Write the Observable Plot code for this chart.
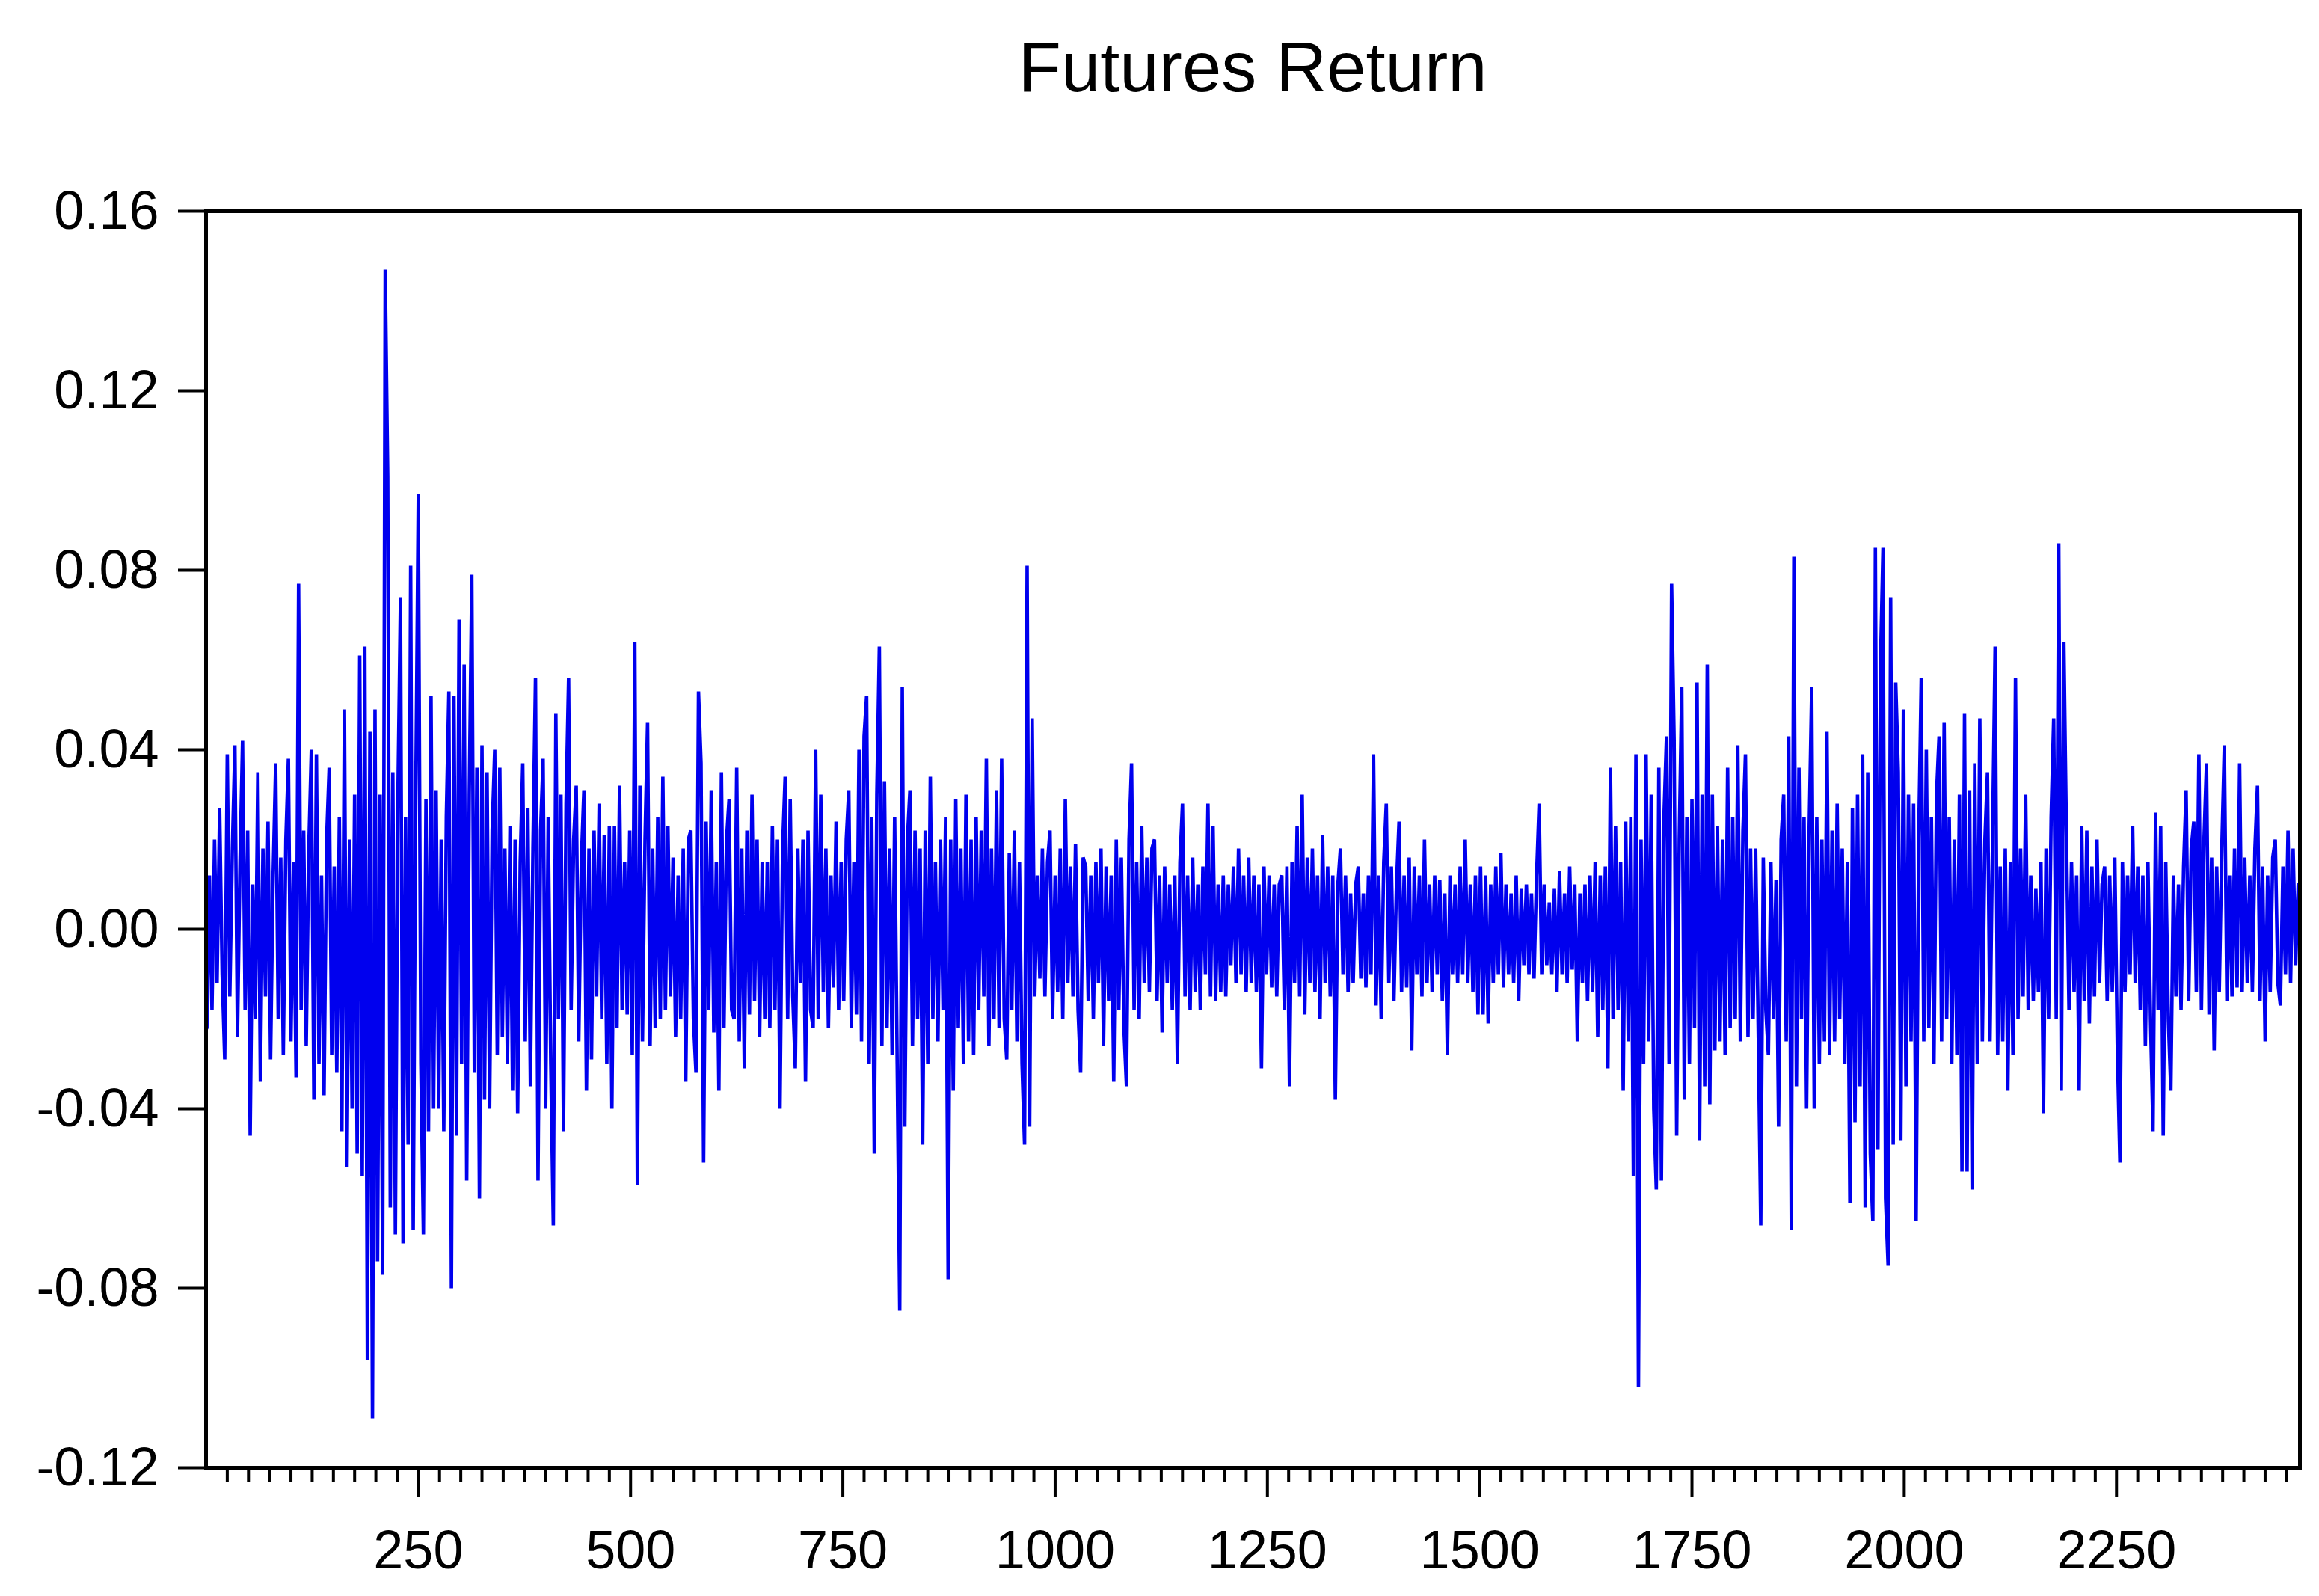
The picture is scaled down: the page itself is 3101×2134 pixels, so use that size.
<!DOCTYPE html>
<html><head><meta charset="utf-8">
<script src="https://cdn.jsdelivr.net/npm/d3@7"></script>
<script src="https://cdn.jsdelivr.net/npm/@observablehq/plot@0.6"></script>
<style>
html,body{margin:0;padding:0;background:#fff;}
#title{height:200px;box-sizing:border-box;width:3075px;padding:43px 0 0 275px;text-align:center;font:94px/94px "Liberation Sans",Arial,sans-serif;color:#000;white-space:nowrap;}
#chart svg{display:block;}
</style></head><body>
<div id="title"></div>
<div id="chart"></div>
<script>
const titleText = "Futures Return";
const firstObs = 1, obsStep = 3;
// returns, obs 1-598
const retA = [
-0.022,0.012,-0.018,0.020,-0.012,0.027,-0.010,-0.029,0.039,-0.015,
0.018,0.041,-0.024,0.015,0.042,-0.018,0.022,-0.046,0.010,-0.020,
0.035,-0.034,0.018,-0.015,0.024,-0.029,0.012,0.037,-0.020,0.016,
-0.028,0.020,0.038,-0.025,0.015,-0.033,0.077,-0.018,0.022,-0.026,
0.018,0.040,-0.038,0.039,-0.030,0.012,-0.037,0.020,0.036,-0.028,
0.014,-0.032,0.025,-0.045,0.049,-0.053,0.020,-0.040,0.030,-0.050,
0.061,-0.055,0.063,-0.096,0.044,-0.109,0.049,-0.074,0.030,-0.077,
0.147,0.101,-0.062,0.035,-0.068,0.030,0.074,-0.070,0.025,-0.048,
0.081,-0.067,0.030,0.097,-0.030,-0.068,0.029,-0.045,0.052,-0.040,
0.031,-0.040,0.020,-0.045,0.025,0.053,-0.080,0.052,-0.046,0.069,
-0.030,0.059,-0.056,0.030,0.079,-0.032,0.036,-0.060,0.041,-0.038,
0.035,-0.040,0.022,0.040,-0.028,0.036,-0.024,0.018,-0.030,0.023,
-0.036,0.020,-0.041,0.015,0.037,-0.025,0.027,-0.035,0.018,0.056,
-0.056,0.022,0.038,-0.040,0.025,-0.030,-0.066,0.048,-0.020,0.030,
-0.045,0.028,0.056,-0.018,0.020,0.032,-0.025,0.015,0.031,-0.036,
0.018,-0.029,0.022,-0.015,0.028,-0.020,0.021,-0.030,0.023,-0.040,
0.023,-0.022,0.032,-0.018,0.015,-0.019,0.022,-0.028,0.064,-0.057,
0.032,-0.025,0.020,0.046,-0.026,0.018,-0.022,0.025,-0.020,0.034,
-0.018,0.023,-0.015,0.016,-0.024,0.012,-0.020,0.018,-0.034,0.020,
0.022,-0.020,-0.032,0.053,0.037,-0.052,0.024,-0.018,0.031,-0.023
];
// returns, obs 601-1198
const retB = [
0.015,-0.036,0.035,-0.022,0.020,0.029,-0.018,-0.020,0.036,-0.025,
0.018,-0.031,0.022,-0.019,0.030,-0.016,0.020,-0.024,0.015,-0.020,
0.015,-0.022,0.023,-0.018,0.020,-0.040,0.018,0.034,-0.020,0.029,
-0.015,-0.031,0.018,-0.012,0.020,-0.034,0.022,-0.018,-0.022,0.040,
-0.020,0.030,-0.014,0.018,-0.022,0.012,-0.013,0.024,-0.018,0.015,
-0.016,0.020,0.031,-0.022,0.015,-0.019,0.040,-0.025,0.043,0.052,
-0.030,0.025,-0.050,0.030,0.063,-0.026,0.033,-0.022,0.018,-0.028,
0.025,-0.030,-0.085,0.054,-0.044,0.020,0.031,-0.026,0.022,-0.020,
0.018,-0.048,0.022,-0.030,0.034,-0.020,0.015,-0.025,0.020,-0.018,
0.025,-0.078,0.020,-0.036,0.029,-0.022,0.018,-0.030,0.030,-0.025,
0.020,-0.028,0.025,-0.018,0.022,-0.015,0.038,-0.026,0.018,-0.020,
0.031,-0.022,0.038,-0.020,-0.029,0.017,-0.018,0.022,-0.025,0.015,
-0.030,-0.048,0.081,-0.044,0.047,-0.015,0.012,-0.011,0.018,-0.015,
0.015,0.022,-0.020,0.012,-0.014,0.018,-0.020,0.029,-0.012,0.014,
-0.015,0.019,-0.018,-0.032,0.016,0.014,-0.016,0.012,-0.020,0.015,
-0.012,0.018,-0.026,0.014,-0.016,0.012,-0.034,0.020,-0.018,0.016,
-0.022,-0.035,0.020,0.037,-0.018,0.015,-0.020,0.023,-0.012,0.016,
-0.014,0.018,0.020,-0.016,0.012,-0.023,0.014,-0.012,0.010,-0.018,
0.012,-0.030,0.015,0.028,-0.015,0.012,-0.018,0.016,-0.014,0.010,
-0.018,0.014,-0.010,0.028,-0.015,0.023,-0.016,0.010,-0.014,0.012
];
// returns, obs 1201-1798
const retC = [
-0.015,0.010,-0.008,0.014,-0.012,0.018,-0.010,0.012,-0.014,0.016,
-0.012,0.012,-0.014,0.010,-0.031,0.014,-0.010,0.012,-0.013,0.010,
-0.015,0.010,0.012,-0.018,0.014,-0.035,0.015,-0.012,0.023,-0.015,
0.030,-0.019,0.016,-0.012,0.018,-0.014,0.012,-0.020,0.021,-0.012,
0.014,-0.015,0.012,-0.038,0.010,0.018,-0.010,0.012,-0.014,0.008,
-0.012,0.010,0.014,-0.011,0.008,-0.013,0.012,-0.010,0.039,-0.017,
0.012,-0.020,0.015,0.028,-0.012,0.014,-0.016,0.010,0.024,-0.014,
0.012,-0.013,0.016,-0.027,0.014,-0.010,0.012,-0.015,0.020,-0.012,
0.010,-0.014,0.012,-0.010,0.011,-0.016,0.008,-0.028,0.012,-0.010,
0.010,-0.012,0.014,-0.010,0.020,-0.012,0.010,-0.014,0.012,-0.019,
0.014,-0.019,0.012,-0.021,0.010,-0.012,0.014,-0.010,0.017,-0.013,
0.010,-0.010,0.008,-0.012,0.012,-0.016,0.009,-0.008,0.010,-0.010,
0.008,-0.011,0.012,0.028,-0.010,0.010,-0.008,0.006,-0.010,0.009,
-0.014,0.013,-0.010,0.008,-0.012,0.014,-0.009,0.010,-0.025,0.008,
-0.012,0.010,-0.016,0.012,-0.014,0.015,-0.024,0.012,-0.018,0.014,
-0.031,0.036,-0.020,0.023,-0.018,0.015,-0.036,0.024,-0.025,0.025,
-0.055,0.039,-0.102,0.020,-0.030,0.039,-0.025,0.030,-0.040,-0.058,
0.036,-0.056,0.025,0.043,-0.030,0.077,0.042,-0.046,0.020,0.054,
-0.038,0.025,-0.030,0.029,-0.022,0.055,-0.047,0.030,-0.035,0.059,
-0.039,0.030,-0.027,0.023,-0.025,0.020,-0.028,0.036,-0.022,0.025
];
// returns, obs 1801-2398
const retD = [
-0.020,0.041,-0.025,0.022,0.039,-0.024,0.018,-0.020,0.018,-0.022,
-0.066,0.016,-0.018,-0.028,0.015,-0.020,0.011,-0.044,0.020,0.030,
-0.025,0.043,-0.067,0.083,-0.035,0.036,-0.020,0.025,-0.040,0.022,
0.054,-0.040,0.025,-0.030,0.020,-0.025,0.044,-0.028,0.022,-0.025,
0.028,-0.020,0.018,-0.030,0.015,-0.061,0.027,-0.043,0.030,-0.035,
0.039,-0.062,0.035,-0.050,-0.065,0.085,-0.049,0.059,0.085,-0.060,
-0.075,0.074,-0.048,0.055,0.035,-0.047,0.049,-0.035,0.030,-0.025,
0.028,-0.065,0.020,0.056,-0.025,0.040,-0.022,0.025,-0.030,0.030,
0.043,-0.025,0.046,-0.020,0.025,-0.030,0.020,-0.028,0.030,-0.054,
0.048,-0.054,0.031,-0.058,0.037,-0.030,0.047,-0.025,0.020,0.035,
-0.025,0.020,0.063,-0.028,0.014,-0.025,0.018,-0.036,0.015,-0.028,
0.056,-0.020,0.018,-0.015,0.030,-0.018,0.012,-0.016,0.009,-0.014,
0.015,-0.041,0.018,-0.020,0.025,0.047,-0.020,0.086,-0.036,0.064,
0.021,-0.018,0.015,-0.014,0.012,-0.036,0.023,-0.016,0.022,-0.021,
0.014,-0.015,0.020,-0.012,0.010,0.014,-0.016,0.012,-0.014,0.016,
-0.027,-0.052,0.015,-0.014,0.012,-0.010,0.023,-0.012,0.014,-0.018,
0.012,-0.026,0.015,-0.020,-0.045,0.026,-0.018,0.023,-0.046,0.015,
-0.020,-0.036,0.012,-0.015,0.010,-0.018,0.014,0.031,-0.016,0.018,
0.024,-0.014,0.039,-0.018,0.020,0.037,-0.019,0.016,-0.027,0.014,
-0.014,0.018,0.041,-0.016,0.012,-0.015,0.018,-0.013,0.037,-0.014
];
// returns, obs 2401-2464
const retE = [
0.016,-0.012,0.012,-0.014,0.018,0.032,-0.016,0.014,-0.025,0.012,
-0.014,0.016,0.020,-0.012,-0.017,0.014,-0.010,0.022,-0.012,0.018,
-0.008,0.010
];
const yTicks = [-0.12, -0.08, -0.04, 0.00, 0.04, 0.08, 0.12, 0.16];
const xMajorTicks = [250, 500, 750, 1000, 1250, 1500, 1750, 2000, 2250];
const xMinorTicks = d3.range(25, 2466, 25).filter(v => v % 250 !== 0);

const ret = [...retA, ...retB, ...retC, ...retD, ...retE];
const data = ret.map((r, i) => ({obs: firstObs + obsStep * i, r}));

document.getElementById("title").textContent = titleText;

const chart = Plot.plot({
  width: 3101,
  height: 1934,
  marginTop: 82,
  marginBottom: 172,
  marginLeft: 275,
  marginRight: 26,
  style: {fontFamily: '"Liberation Sans", Arial, sans-serif', fontSize: "72px", color: "#000", background: "#fff"},
  x: {domain: [0, 2466], axis: null},
  y: {domain: [-0.12, 0.16], axis: null},
  marks: [
    Plot.axisY(yTicks, {anchor: "left", tickSize: 37, tickPadding: 26, strokeWidth: 4, tickFormat: d => d.toFixed(2), label: null}),
    Plot.axisX(xMinorTicks, {anchor: "bottom", tickSize: 20, strokeWidth: 4, fill: "none", tickFormat: () => "", label: null}),
    Plot.axisX(xMajorTicks, {anchor: "bottom", tickSize: 40, tickPadding: 43, strokeWidth: 4, tickFormat: d => String(d), label: null}),
    Plot.line(data, {x: "obs", y: "r", stroke: "#0000ee", strokeWidth: 4.6, strokeLinejoin: "miter", strokeMiterlimit: 2}),
    Plot.frame({stroke: "#000", strokeWidth: 5})
  ]
});
document.getElementById("chart").appendChild(chart);
</script>
</body></html>
